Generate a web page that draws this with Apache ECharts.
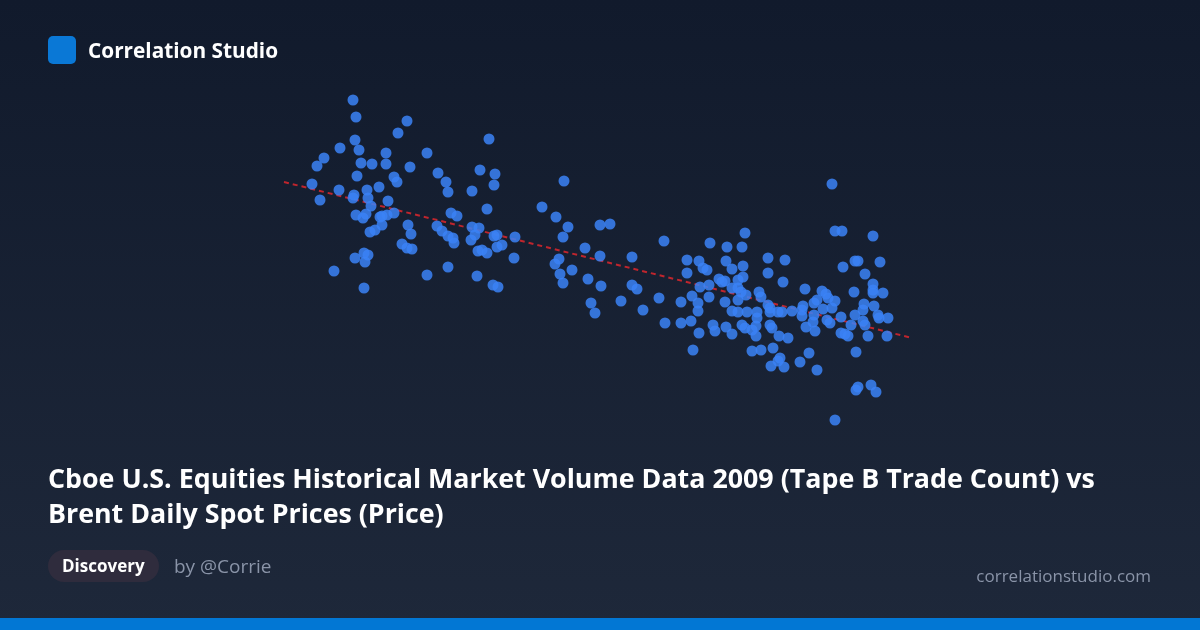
<!DOCTYPE html>
<html>
<head>
<meta charset="utf-8">
<script src="https://cdn.jsdelivr.net/npm/echarts@6/dist/echarts.min.js"></script>
<style>
  html, body { margin: 0; padding: 0; width: 1200px; height: 630px; overflow: hidden; }
  body { background: linear-gradient(180deg, #111a2c 0%, #1e283a 100%); font-family: "Open Sans", "Noto Sans", sans-serif; position: relative; }
  #chart { position: absolute; left: 0; top: 0; width: 1200px; height: 630px; }
  .logo { position: absolute; left: 48px; top: 36px; width: 28px; height: 28px; border-radius: 5px; background: #0a78d6; }
  .brand { position: absolute; left: 88px; top: 36px; line-height: 28px; font-size: 20.8px; font-weight: 700; color: #ffffff; }
  .title { position: absolute; left: 48px; top: 460px; width: 1140px; font-size: 26.8px; line-height: 35px; font-weight: 700; color: #ffffff; white-space: nowrap; }
  .badge { position: absolute; left: 48px; top: 550px; height: 32px; line-height: 32px; padding: 0 14px; border-radius: 16px; background: #2f2c3d; color: #fff; font-weight: 700; font-size: 17px; }
  .by { position: absolute; left: 174px; top: 552px; line-height: 28px; font-size: 19px; color: #8a94a8; }
  .site { position: absolute; right: 49px; top: 563px; line-height: 26px; font-size: 17px; color: #8a94a8; }
  .bar { position: absolute; left: 0; bottom: 0; width: 1200px; height: 12px; background: #0277d4; }
</style>
</head>
<body>
<div id="chart"></div>
<div class="logo"></div>
<div class="brand">Correlation Studio</div>
<div class="title">Cboe U.S. Equities Historical Market Volume Data 2009 (Tape B Trade Count) vs<br>Brent Daily Spot Prices (Price)</div>
<div class="badge">Discovery</div>
<div class="by">by @Corrie</div>
<div class="site">correlationstudio.com</div>
<div class="bar"></div>
<script>
// Values (arbitrary chart units; no axes are shown)
const tradeCount = [
153,156,207,198,155,140,159,124,117,161,172,186,186,227,210,238,157,194,197,112,
179,139,167,154,153,120,168,188,171,194,182,187,156,163,166,180,182,208,211,237,
175,170,202,207,212,155,164,168,165,134,164,227,
289,246,248,280,295,294,272,364,287,342,356,368,363,251,257,242,248,253,254,272,
279,275,271,297,294,302,297,315,282,278,287,314,385,400,410,400,359,
248,277,293,298,355,360,372,363,388,391,395,401,
464,432,510,527,542,545,487,499,526,
632,635,642,673,568,585,655,658,680,
432,437,421,443,459,503,507,487,532,543,543,538,525,522,519,509,500,532,538,541,
492,509,481,498,525,538,546,498,532,538,547,557,559,465,481,491,513,515,526,532,
542,545,552,556,556,499,493,552,561,
568,583,643,665,673,673,673,683,654,605,561,622,626,628,617,614,635,632,623,664,
674,663,655,678,679,688,603,602,602,592,582,578,570,568,570,557,614,613,641,630,
627,606,615,570,572,651,663,665,641,645,648,668,687,579,588,573,609,600,580,578,
571,584,617,656,658,656,671,676,635
];
const brentPrice = [
400,383,379,367,360,352,350,342,334,337,336,347,336,347,333,327,324,323,318,316,
313,310,310,305,302,300,302,299,294,287,284,285,285,282,286,283,275,275,266,274,
270,268,256,252,251,242,247,245,238,229,212,225,
361,318,308,330,326,315,309,319,291,293,283,273,263,287,284,269,264,262,257,273,
272,265,260,265,264,255,253,263,250,249,247,242,252,275,276,244,241,
233,224,215,213,236,226,230,217,221,197,187,214,
259,243,257,253,253,267,240,239,239,
316,269,269,264,242,240,239,239,238,
215,211,199,190,202,232,230,227,231,234,223,220,219,218,221,215,213,212,212,208,
204,203,198,197,198,200,205,189,189,188,188,188,208,177,177,179,175,169,173,166,
175,172,170,174,164,167,150,149,150,
227,218,233,226,216,210,207,207,208,211,203,209,206,202,200,197,199,192,191,196,
194,190,185,185,182,182,194,190,184,189,188,188,192,195,188,182,185,178,183,177,
180,173,169,175,172,175,179,175,167,166,164,164,164,164,162,152,147,138,142,139,
134,133,130,148,113,110,115,108,80
];
// Trend line end points
const trendX = [84, 712];
const trendY = [318, 162];

const points = tradeCount.map((x, i) => [x, brentPrice[i]]);
const trend = trendX.map((x, i) => [x, trendY[i]]);

const chart = echarts.init(document.getElementById('chart'), null, { renderer: 'canvas' });
chart.setOption({
  backgroundColor: 'transparent',
  animation: false,
  grid: { left: 0, right: 0, top: 0, bottom: 0 },
  xAxis: { type: 'value', min: -200, max: 1000, show: false },
  yAxis: { type: 'value', min: -130, max: 500, show: false },
  series: [
    {
      type: 'line',
      data: trend,
      symbol: 'none',
      z: 1,
      lineStyle: { color: '#c8262d', width: 2, type: [5, 4], opacity: 0.95 }
    },
    {
      type: 'scatter',
      data: points,
      symbolSize: 11,
      z: 2,
      itemStyle: { color: '#3b82f6', opacity: 0.85 }
    }
  ]
});
</script>
</body>
</html>
